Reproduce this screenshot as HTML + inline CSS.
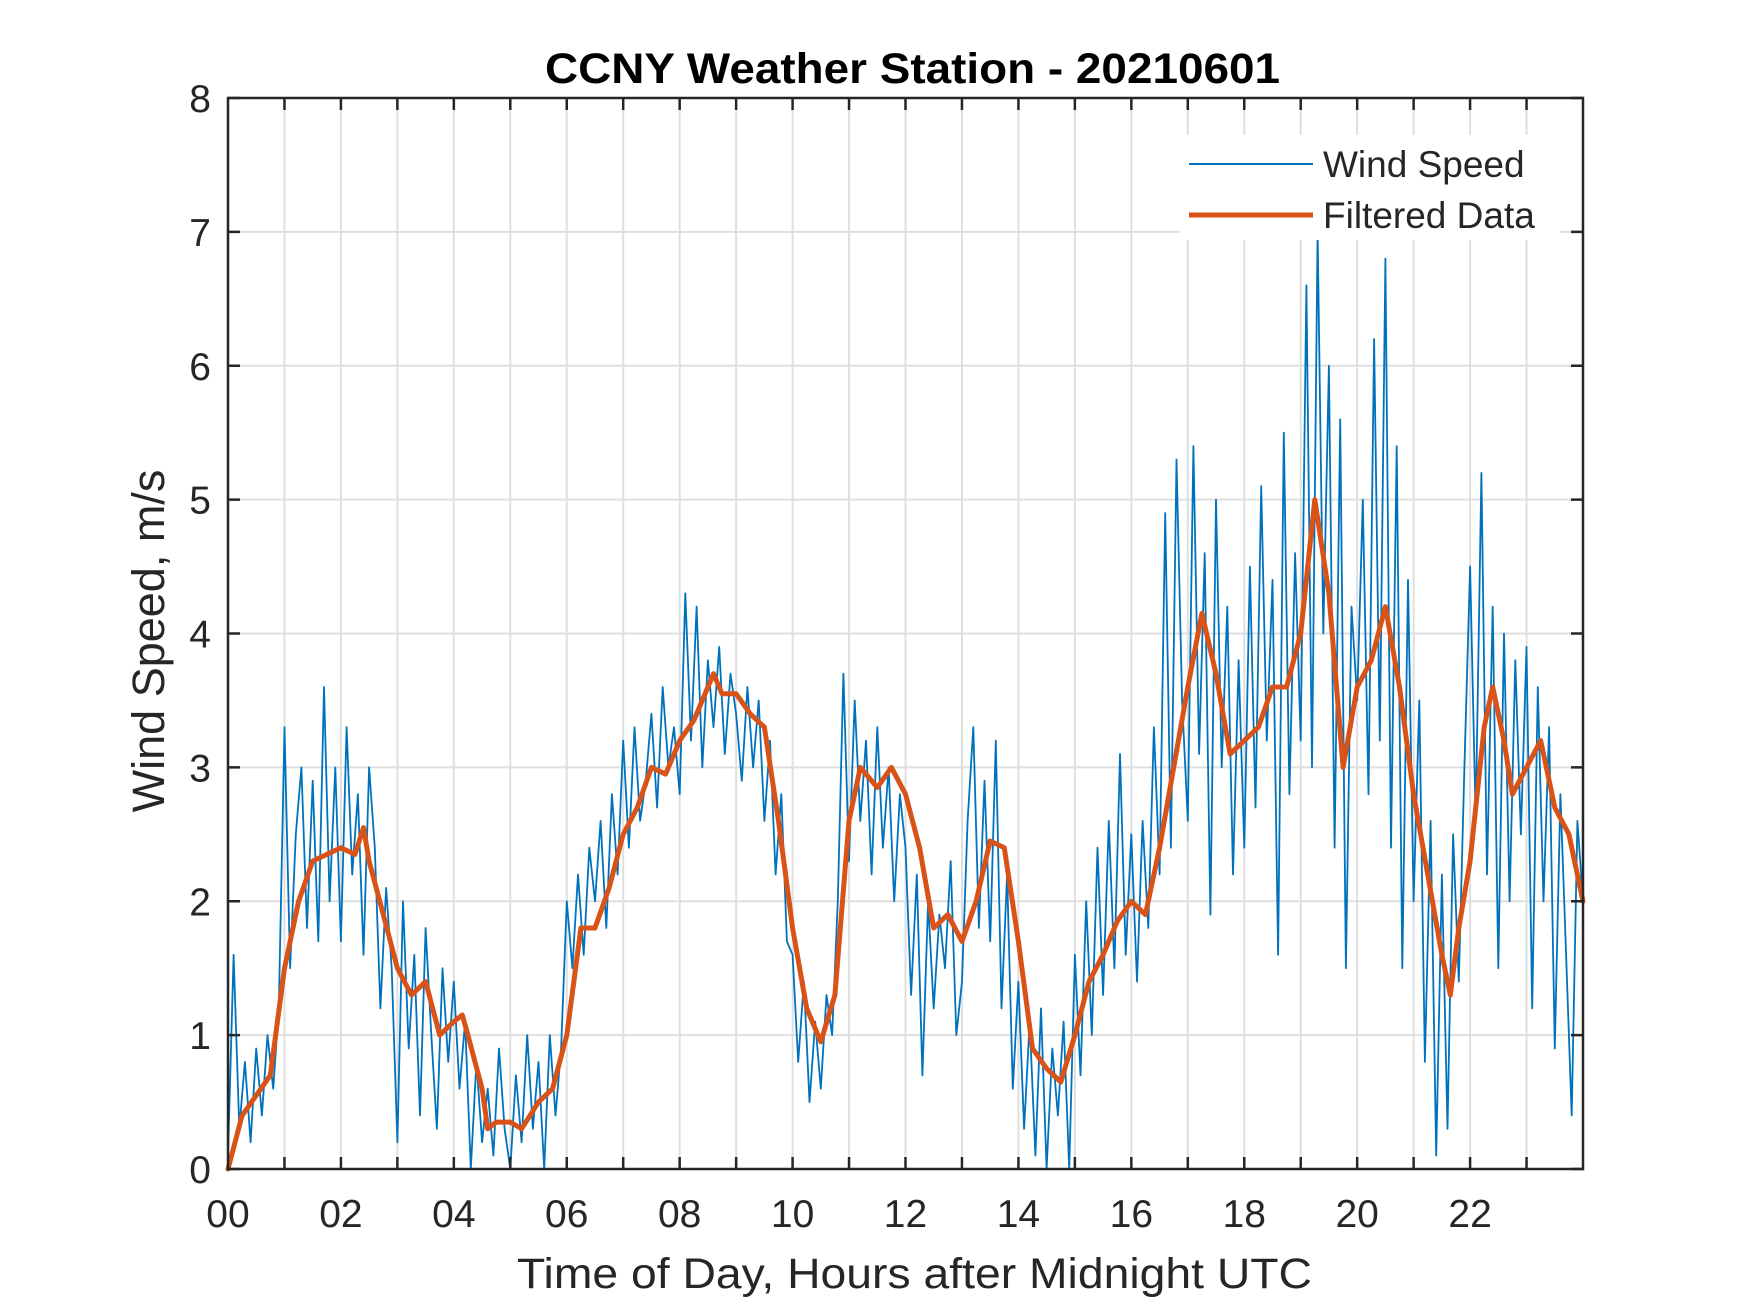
<!DOCTYPE html>
<html><head><meta charset="utf-8"><style>
html,body{margin:0;padding:0;background:#fff}
svg{display:block}
text{font-family:"Liberation Sans",Arial,sans-serif;fill:#262626}
</style></head><body>
<svg id="chart" width="1750" height="1313" viewBox="0 0 1750 1313" xmlns="http://www.w3.org/2000/svg">
<rect width="1750" height="1313" fill="#fff"/>
<g id="grid"></g>
<g id="series"></g>
<g id="axes"></g>
<text x="545" y="83" textLength="735" lengthAdjust="spacingAndGlyphs" font-size="43" font-weight="bold" style="fill:#000">CCNY Weather Station - 20210601</text>
<text x="517" y="1288" textLength="795" lengthAdjust="spacingAndGlyphs" font-size="43">Time of Day, Hours after Midnight UTC</text>
<text transform="translate(164,641) rotate(-90)" text-anchor="middle" font-size="45">Wind Speed, m/s</text>
<g>
<rect x="1180" y="135" width="380" height="105" fill="#fff"/>
<line x1="1189" y1="164" x2="1313" y2="164" stroke="#0072BD" stroke-width="2"/>
<text x="1323" y="177" font-size="37">Wind Speed</text>
<line x1="1189" y1="215" x2="1313" y2="215" stroke="#D95319" stroke-width="5"/>
<text x="1323" y="228" font-size="37">Filtered Data</text>
</g>
</svg>
<script>
const xTicks = [0,2,4,6,8,10,12,14,16,18,20,22];
const xTickLabels = ["00","02","04","06","08","10","12","14","16","18","20","22"];
const yTicks = [0,1,2,3,4,5,6,7,8];
const rawValues = [
0.1,1.6,0.3,0.8,0.2,0.9,0.4,1.0,0.6,1.2,
3.3,1.5,2.5,3.0,1.8,2.9,1.7,3.6,2.0,3.0,
1.7,3.3,2.2,2.8,1.6,3.0,2.4,1.2,2.1,1.5,
0.2,2.0,0.9,1.6,0.4,1.8,1.0,0.3,1.5,0.8,
1.4,0.6,1.1,0.0,0.8,0.2,0.6,0.1,0.9,0.3,
0.0,0.7,0.2,1.0,0.3,0.8,0.0,1.0,0.4,0.9,
2.0,1.5,2.2,1.6,2.4,2.0,2.6,1.8,2.8,2.2,
3.2,2.4,3.3,2.6,2.9,3.4,2.7,3.6,3.0,3.3,
2.8,4.3,3.2,4.2,3.0,3.8,3.3,3.9,3.1,3.7,
3.4,2.9,3.6,3.0,3.5,2.6,3.2,2.2,2.8,1.7,
1.6,0.8,1.4,0.5,1.1,0.6,1.3,1.0,2.0,3.7,
2.3,3.5,2.6,3.2,2.2,3.3,2.4,3.0,2.0,2.8,
2.4,1.3,2.2,0.7,2.0,1.2,1.9,1.5,2.3,1.0,
1.4,2.6,3.3,1.8,2.9,1.7,3.2,1.2,2.2,0.6,
1.4,0.3,1.1,0.1,1.2,0.0,0.9,0.4,1.1,0.0,
1.6,0.7,2.0,1.0,2.4,1.3,2.6,1.5,3.1,1.6,
2.5,1.4,2.6,1.8,3.3,2.2,4.9,2.4,5.3,3.5,
2.6,5.4,3.1,4.6,1.9,5.0,3.0,4.2,2.2,3.8,
2.4,4.5,2.7,5.1,3.2,4.4,1.6,5.5,2.8,4.6,
3.2,6.6,3.0,7.0,4.0,6.0,2.4,5.6,1.5,4.2,
3.5,5.0,2.8,6.2,3.2,6.8,2.4,5.4,1.5,4.4,
2.0,3.5,0.8,2.6,0.1,2.2,0.3,2.5,1.4,3.0,
4.5,2.6,5.2,2.2,4.2,1.5,4.0,2.0,3.8,2.5,
3.9,1.2,3.6,2.0,3.3,0.9,2.8,1.6,0.4,2.6,
2.0];
const rawStepHours = 0.1;
const filtHours = [0,0.25,0.5,0.75,1,1.25,1.5,1.75,2,2.25,2.4,2.5,2.75,3,3.25,3.5,3.75,4,4.15,4.25,4.5,4.6,4.75,5,5.2,5.5,5.75,6,6.25,6.5,6.75,7,7.25,7.5,7.75,8,8.25,8.5,8.6,8.75,9,9.25,9.5,9.75,10,10.25,10.5,10.75,11,11.2,11.5,11.75,12,12.25,12.5,12.75,13,13.25,13.5,13.75,14,14.25,14.5,14.75,15,15.25,15.5,15.75,16,16.25,16.5,16.75,17,17.25,17.5,17.75,18,18.25,18.5,18.75,19,19.25,19.5,19.75,20,20.25,20.5,20.75,21,21.25,21.5,21.65,21.8,22,22.25,22.4,22.6,22.75,23,23.25,23.5,23.75,24];
const filtValues = [0,0.4,0.55,0.7,1.5,2.0,2.3,2.35,2.4,2.35,2.55,2.3,1.9,1.5,1.3,1.4,1.0,1.1,1.15,1.0,0.6,0.3,0.35,0.35,0.3,0.5,0.6,1.0,1.8,1.8,2.1,2.5,2.7,3.0,2.95,3.2,3.35,3.6,3.7,3.55,3.55,3.4,3.3,2.6,1.8,1.2,0.95,1.3,2.6,3.0,2.85,3.0,2.8,2.4,1.8,1.9,1.7,2.0,2.45,2.4,1.7,0.9,0.75,0.65,1.0,1.4,1.6,1.85,2.0,1.9,2.4,3.0,3.6,4.15,3.7,3.1,3.2,3.3,3.6,3.6,4.0,5.0,4.3,3.0,3.6,3.8,4.2,3.6,2.8,2.2,1.6,1.3,1.8,2.3,3.3,3.6,3.2,2.8,3.0,3.2,2.7,2.5,2.0];

const L=228,R=1583,T=98,B=1169;
const xMin=0,xMax=24,yMin=0,yMax=8;
function xs(h){return L+(h-xMin)/(xMax-xMin)*(R-L);}
function ys(v){return B-(v-yMin)/(yMax-yMin)*(B-T);}
const NS="http://www.w3.org/2000/svg";
function mk(tag,attrs,parent){const e=document.createElementNS(NS,tag);for(const k in attrs)e.setAttribute(k,attrs[k]);parent.appendChild(e);return e;}
const grid=document.getElementById('grid'),series=document.getElementById('series'),axes=document.getElementById('axes');
for(let h=1;h<24;h++){
  const g=mk('line',{x1:xs(h),x2:xs(h),y1:T,y2:B,stroke:'#dfdfdf','stroke-width':2},grid);
  
  
}
yTicks.forEach(v=>{
  if(v===yMin||v===yMax)return;
  const g=mk('line',{x1:L,x2:R,y1:ys(v),y2:ys(v),stroke:'#dfdfdf','stroke-width':2},grid);
  
  
});
let d='';
rawValues.forEach((v,i)=>{d+=(i?'L':'M')+xs(i*rawStepHours).toFixed(1)+' '+ys(v).toFixed(1);});
const raw=mk('path',{d:d,fill:'none',stroke:'#0072BD','stroke-width':1.8,'stroke-linejoin':'round'},series);


let d2='';
filtHours.forEach((h,i)=>{d2+=(i?'L':'M')+xs(h).toFixed(1)+' '+ys(filtValues[i]).toFixed(1);});
const filt=mk('path',{d:d2,fill:'none',stroke:'#D95319','stroke-width':5,'stroke-linejoin':'round','stroke-linecap':'round'},series);


const fr=mk('rect',{x:L,y:T,width:R-L,height:B-T,fill:'none',stroke:'#262626','stroke-width':2.5},axes);


for(let h=1;h<24;h++){
  mk('line',{x1:xs(h),x2:xs(h),y1:B,y2:B-12,stroke:'#262626','stroke-width':2.5},axes);
  mk('line',{x1:xs(h),x2:xs(h),y1:T,y2:T+12,stroke:'#262626','stroke-width':2.5},axes);
}
xTicks.forEach((h,i)=>{
  const t=mk('text',{x:xs(h),y:1227,'text-anchor':'middle','font-size':39},axes);
  t.textContent=xTickLabels[i];
  
  
});
yTicks.forEach(v=>{
  mk('line',{x1:L,x2:L+12,y1:ys(v),y2:ys(v),stroke:'#262626','stroke-width':2.5},axes);
  mk('line',{x1:R,x2:R-12,y1:ys(v),y2:ys(v),stroke:'#262626','stroke-width':2.5},axes);
  const t=mk('text',{x:211,y:ys(v)+14,'text-anchor':'end','font-size':39},axes);
  t.textContent=String(v);
  
  
});
</script>
</body></html>
